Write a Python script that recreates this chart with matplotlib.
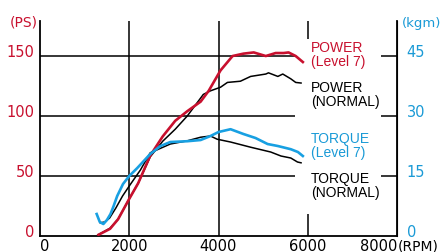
import matplotlib
matplotlib.use("Agg")
import matplotlib.pyplot as plt
from matplotlib.patches import Rectangle

# ---- data ----
rpm_power_l7 = [1310, 1570, 1750, 2000, 2200, 2470, 2750, 3030, 3300, 3600, 3780, 4045, 4315, 4560, 4790, 5060, 5280, 5460, 5570, 5730, 5890]
ps_power_l7  = [1, 6, 14, 31, 44, 67, 83, 96, 104, 112, 121, 138, 150, 152, 153, 150, 152.5, 152.5, 153, 150, 145]

rpm_power_n = [1330, 1570, 1750, 2000, 2200, 2470, 2750, 3030, 3300, 3660, 3820, 4045, 4200, 4490, 4720, 5060, 5120, 5330, 5440, 5620, 5730, 5850]
ps_power_n  = [1.5, 6.5, 14, 31, 44, 66, 79, 89, 100, 118, 121, 124, 128, 129, 133, 135, 136, 133, 135, 131, 128, 127.5]

rpm_torque_l7 = [1270, 1340, 1420, 1500, 1580, 1650, 1730, 1860, 2000, 2180, 2470, 2700, 2920, 3300, 3600, 3820, 4000, 4270, 4560, 4830, 5100, 5330, 5620, 5780, 5890]
kgm_torque_l7 = [5.5, 3.5, 3.0, 4.0, 5.5, 7.5, 10.0, 13.0, 15.0, 17.0, 20.5, 22.5, 23.5, 23.7, 24.0, 25.0, 26.0, 26.7, 25.5, 24.5, 23.0, 22.5, 21.7, 21.0, 20.0]

rpm_torque_n = [1350, 1450, 1560, 1700, 1850, 2000, 2250, 2470, 2920, 3300, 3600, 3820, 3970, 4270, 4720, 5170, 5400, 5620, 5770, 5850]
kgm_torque_n = [3.3, 3.5, 4.5, 7.0, 10.0, 12.5, 16.5, 20.8, 23.0, 23.8, 24.7, 25.0, 24.2, 23.5, 22.2, 21.0, 20.0, 19.5, 18.5, 18.3]

x_ticks = [0, 2000, 4000, 6000, 8000]
x_labels = ["0", "2000", "4000", "6000", "8000"]
x_unit = "(RPM)"
ps_ticks = [0, 50, 100, 150]
kgm_ticks = [0, 15, 30, 45]

RED = "#c8102e"
BLUE = "#1a9ad6"
LBLUE = "#18a0e2"

fig = plt.figure(figsize=(4.45, 2.53), dpi=100)
ax = fig.add_axes([40/445, 16/253, 357/445, 215/253])
ps_top = 179.2
ax.set_xlim(0, 8000)
ax.set_ylim(0, ps_top)
ax2 = ax.twinx()
ax2.set_ylim(0, ps_top * 0.3)

ax.spines["top"].set_visible(False)
ax2.spines["top"].set_visible(False)
ax2.spines["left"].set_visible(False)
ax2.spines["bottom"].set_visible(False)
for sp in [ax.spines["left"], ax.spines["bottom"], ax2.spines["right"]]:
    sp.set_linewidth(1.3)
    sp.set_color("black")

# grid
for y in ps_ticks[1:]:
    ax.axhline(y, color="black", lw=1.1, zorder=1)
for x in x_ticks[1:-1]:
    ax.axvline(x, color="black", lw=1.1, zorder=1)
# white mask behind labels
ax.add_patch(Rectangle((5720, 18.3), 1920, 145.8, facecolor="white", edgecolor="none", zorder=1.5))

ax.plot(rpm_power_n, ps_power_n, color="black", lw=1.1, zorder=3)
ax.plot(rpm_power_l7, ps_power_l7, color=RED, lw=1.9, zorder=4)
ax2.plot(rpm_torque_n, kgm_torque_n, color="black", lw=1.1, zorder=3)
ax2.plot(rpm_torque_l7, kgm_torque_l7, color=LBLUE, lw=1.9, zorder=4)

ax.set_xticks(x_ticks)
ax.set_xticklabels(x_labels)
ax.set_yticks(ps_ticks)
ax.set_yticklabels([str(v) for v in ps_ticks])
ax2.set_yticks(kgm_ticks)
ax2.set_yticklabels([str(v) for v in kgm_ticks])

ax.tick_params(axis="x", length=0, pad=1.5, labelsize=10.5, colors="black")
ax.tick_params(axis="y", length=0, pad=4, labelsize=10.5, labelcolor=RED)
ax2.tick_params(axis="y", length=0, pad=7, labelsize=10.5, labelcolor=BLUE)
for t in ax.get_yticklabels():
    t.set_va("baseline")
for t in ax2.get_yticklabels():
    t.set_va("baseline")
xl = ax.get_xticklabels()
xl[0].set_ha("left")
xl[-1].set_ha("right")
ax.text(1.002, -0.011, x_unit, transform=ax.transAxes, fontsize=10, ha="left", va="top")

ax.text(-0.085, 1.03, "(PS)", transform=ax.transAxes, color=RED, fontsize=10, ha="left", va="top")
ax2.text(1.013, 1.025, "(kgm)", transform=ax.transAxes, color=BLUE, fontsize=9.5, ha="left", va="top")

lab = dict(family="Liberation Sans", fontsize=10, ha="left", va="top", linespacing=1.0, zorder=5)
ax.text(6070, (237-41)/60*50, "POWER\n(Level 7)", color=RED, **lab)
ax.text(6070, (237-81)/60*50, "POWER\n(NORMAL)", color="black", **lab)
ax.text(6070, (237-132)/60*50, "TORQUE\n(Level 7)", color=BLUE, **lab)
ax.text(6070, (237-172)/60*50, "TORQUE\n(NORMAL)", color="black", **lab)

fig.savefig("out.png", dpi=100)
